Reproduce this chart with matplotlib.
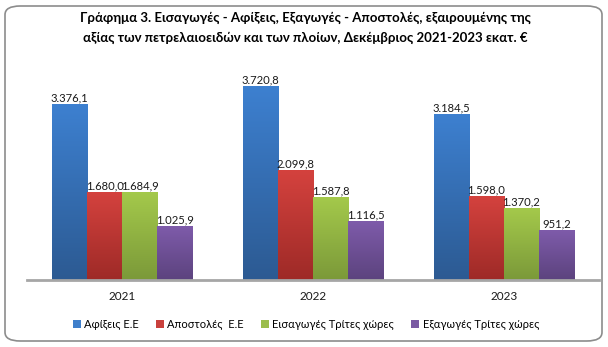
import numpy as np
import matplotlib
matplotlib.use('Agg')
import matplotlib.pyplot as plt
from matplotlib.patches import FancyBboxPatch, Patch

years = ['2021', '2022', '2023']
series_names = ['Αφίξεις Ε.Ε', 'Αποστολές  Ε.Ε', 'Εισαγωγές Τρίτες χώρες', 'Εξαγωγές Τρίτες χώρες']
arrivals = [3376.1, 3720.8, 3184.5]
dispatches = [1680.0, 2099.8, 1598.0]
imports_third = [1684.9, 1587.8, 1370.2]
exports_third = [1025.9, 1116.5, 951.2]

# (top, bottom) shades for the vertical gradient of each series
shades = [('#3d80d0', '#2c5a92'),
          ('#d4423e', '#9e2a27'),
          ('#a4c94b', '#7b9939'),
          ('#7e5baa', '#5c437e')]
legend_colors = ['#3f7fcb', '#c9403c', '#9bbd4c', '#7a5aa3']


def fmt(v):
    s = f'{v:,.1f}'
    return s.replace(',', 'X').replace('.', ',').replace('X', '.')


def main():
    plt.rcParams['font.family'] = ['Lato', 'DejaVu Sans']
    fig = plt.figure(figsize=(6.08, 3.47), dpi=100)

    # rounded frame round the whole chart
    frame = FancyBboxPatch((5 / 608, 6 / 347), 597 / 608, 335 / 347,
                           boxstyle='round,pad=0,rounding_size=0.025',
                           transform=fig.transFigure, facecolor='none',
                           edgecolor='#8c8c8c', linewidth=1.2, zorder=-1)
    fig.patches.append(frame)

    ax = fig.add_axes([27 / 608, 1 - 280 / 347, 572 / 608, 208 / 347])
    ax.set_facecolor('none')

    x = np.arange(len(years))
    w = 0.184
    data = [arrivals, dispatches, imports_third, exports_third]
    grad = np.linspace(0, 1, 128).reshape(-1, 1)
    for i, vals in enumerate(data):
        offs = (i - 1.5) * w
        bars = ax.bar(x + offs, vals, w, color='none', edgecolor='none', zorder=2)
        top, bot = shades[i]
        cmap = matplotlib.colors.LinearSegmentedColormap.from_list('g', [bot, top])
        for b, v in zip(bars, vals):
            x0 = b.get_x()
            ax.imshow(grad, cmap=cmap, aspect='auto', origin='lower',
                      extent=(x0, x0 + b.get_width(), 0, b.get_height()), zorder=2)
            ax.text(b.get_x() + b.get_width() / 2, v + 25, fmt(v),
                    ha='center', va='bottom', fontsize=8.1, color='#1a1a1a', zorder=3)

    ax.set_xlim(-0.5, 2.5)
    ax.set_ylim(0, 4000)
    for s in ['top', 'right', 'left']:
        ax.spines[s].set_visible(False)
    ax.spines['bottom'].set_color('#a6a6a6')
    ax.spines['bottom'].set_linewidth(2)
    ax.spines['bottom'].set_zorder(4)
    ax.set_yticks([])
    ax.set_xticks(x)
    ax.set_xticklabels(years, fontsize=8.5)
    ax.tick_params(axis='x', length=0, pad=8, colors='#1a1a1a')

    fig.text(0.502, 1 - 18 / 347,
             'Γράφημα 3. Εισαγωγές - Αφίξεις, Εξαγωγές - Αποστολές, εξαιρουμένης της',
             ha='center', va='center', fontsize=9.5, fontweight='bold')
    fig.text(0.502, 1 - 38 / 347,
             'αξίας των πετρελαιοειδών και των πλοίων, Δεκέμβριος 2021-2023 εκατ. €',
             ha='center', va='center', fontsize=9.5, fontweight='bold')

    handles = [Patch(facecolor=c, edgecolor='none') for c in legend_colors]
    fig.legend(handles, series_names, loc='center', bbox_to_anchor=(0.503, 1 - 324 / 347),
               ncol=4, frameon=False, fontsize=8, handlelength=0.75, handleheight=0.75,
               handletextpad=0.3, columnspacing=1.5)

    fig.savefig('out.png', dpi=100)


if __name__ == '__main__':
    main()
